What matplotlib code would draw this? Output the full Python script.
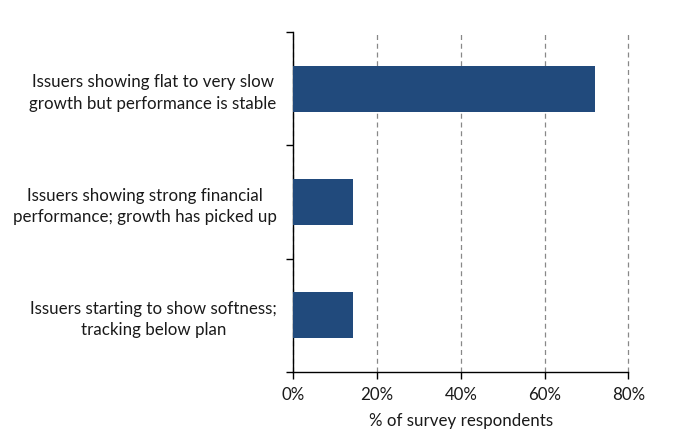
import matplotlib
matplotlib.use("Agg")
import matplotlib.pyplot as plt
import numpy as np
from matplotlib.ticker import PercentFormatter

categories = [
    "Issuers showing flat to very slow\ngrowth but performance is stable",
    "Issuers showing strong financial\nperformance; growth has picked up",
    "Issuers starting to show softness;\ntracking below plan",
]
values = [72, 14.2, 14.2]
x_ticks = [0, 20, 40, 60, 80]
x_label = "% of survey respondents"

plt.rcParams['font.family'] = ['Lato', 'DejaVu Sans']

fig = plt.figure(figsize=(6.75, 4.43), dpi=100)
ax = fig.add_axes([0.4345, 0.161, 0.4965, 0.766])

n = len(categories)
pos = np.arange(n)[::-1]
ax.barh(pos, values, height=0.4, color='#214a7c', zorder=3)

ax.set_ylim(-0.5, n - 0.5)
ax.set_xlim(0, 80)
ax.set_xticks(x_ticks)
ax.xaxis.set_major_formatter(PercentFormatter(decimals=0))
ax.set_yticks(pos)
ax.set_yticklabels(categories, ma='center', linespacing=1.4)
ax.set_yticks(np.arange(-0.5, n, 1.0), minor=True)
ax.tick_params(axis='y', which='major', length=0, pad=12, labelsize=12.2, colors='#1a1a1a')
ax.tick_params(axis='y', which='minor', length=5, width=1, color='black')
ax.tick_params(axis='x', length=5, width=1, labelsize=12.2, pad=6, labelcolor='#1a1a1a')

for s in ['top', 'right']:
    ax.spines[s].set_visible(False)
for s in ['left', 'bottom']:
    ax.spines[s].set_linewidth(1.0)
    ax.spines[s].set_color('black')

ax.grid(axis='x', linestyle=(0, (4, 3)), color='#888888', linewidth=0.9, zorder=0)
for gl in ax.get_xgridlines():
    gl.set_clip_on(False)
ax.set_axisbelow(True)
ax.set_xlabel(x_label, fontsize=12.2, labelpad=7, color='#1a1a1a')

fig.savefig("out.png", dpi=100)
